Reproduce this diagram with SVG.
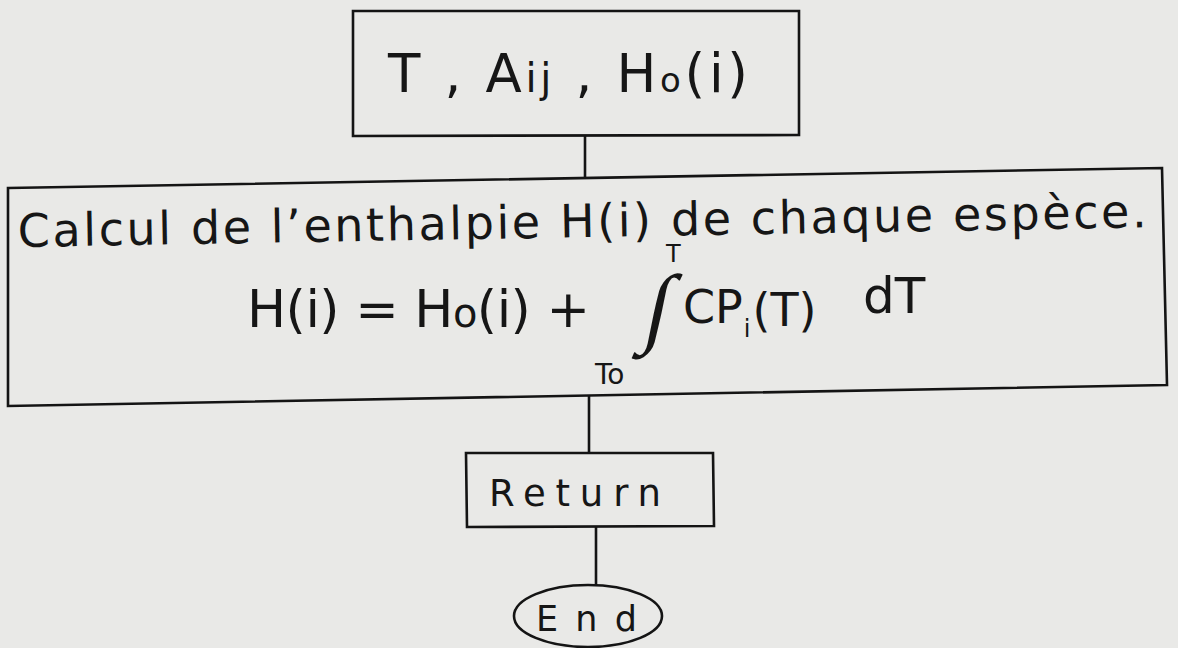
<svg xmlns="http://www.w3.org/2000/svg" width="1178" height="648" viewBox="0 0 1178 648">
<style>
.box{fill:none;stroke:#141414;stroke-width:2.6;stroke-linejoin:miter}
.con{fill:none;stroke:#141414;stroke-width:2.6}
.t{font-family:"DejaVu Sans","Liberation Sans",sans-serif;fill:#161616}
.int{font-family:"Liberation Serif","DejaVu Serif",serif;fill:#161616}
</style>
<rect width="1178" height="648" fill="#e9e9e7"/>
<g id="node-input">
<polygon class="box" points="353,11 799,11 799,135 353,136"/>
<text class="t" x="388" y="92" font-size="53" textLength="360" lengthAdjust="spacing">T , A<tspan font-size="40">ij</tspan> , H<tspan font-size="34">o</tspan>(i)</text>
</g>
<g id="node-calcul">
<polygon class="box" points="8,188 1162,168 1167,385 8,406"/>
<text class="t" x="18" y="247" font-size="46" textLength="1129" lengthAdjust="spacing" transform="rotate(-1 18 247)">Calcul de l’enthalpie H(i) de chaque espèce.</text>
<text class="t" x="247" y="327" font-size="52" textLength="343" lengthAdjust="spacing">H(i) = H<tspan font-size="40">o</tspan>(i) +</text>
<text class="int" font-size="88" transform="translate(652 336) skewX(-12)" x="-11" y="0">∫</text>
<text class="t" x="666" y="262" font-size="24">T</text>
<text class="t" x="683" y="323" font-size="46">CP<tspan font-size="24" dx="1" dy="14">i</tspan><tspan dx="2" dy="-11">(T)</tspan></text>
<text class="t" x="863" y="313" font-size="50">dT</text>
<text class="t" x="595" y="384" font-size="28">To</text>
</g>
<g id="node-return">
<polygon class="box" points="466,453 713,453 714,526 467,527"/>
<text class="t" x="489" y="506" font-size="37" textLength="172" lengthAdjust="spacing">Return</text>
</g>
<g id="node-end">
<ellipse class="box" cx="588" cy="616" rx="74" ry="31"/>
<text class="t" x="536" y="631" font-size="35" textLength="101" lengthAdjust="spacing">End</text>
</g>
<g id="connectors">
<line class="con" x1="585" y1="136" x2="585" y2="178"/>
<line class="con" x1="589" y1="396" x2="589" y2="453"/>
<line class="con" x1="596" y1="527" x2="596" y2="585"/>
</g>
</svg>
